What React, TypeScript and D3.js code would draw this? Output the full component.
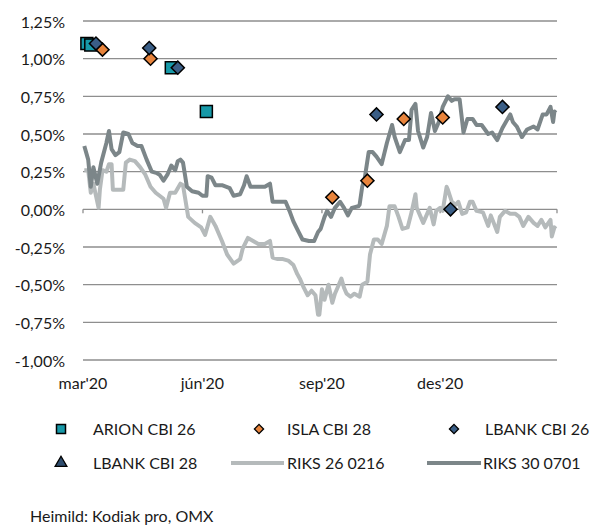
import React from 'react'
import * as d3 from 'd3'

// RIKS 30 0701 (dark line), % yield
const riks30: [string, number][] = [
  ['2020-03-02', 0.42], ['2020-03-05', 0.33], ['2020-03-07', 0.15], ['2020-03-09', 0.28], ['2020-03-12', 0.17],
  ['2020-03-15', 0.31], ['2020-03-19', 0.44], ['2020-03-21', 0.52], ['2020-03-23', 0.40], ['2020-03-26', 0.36],
  ['2020-03-29', 0.38], ['2020-04-01', 0.51], ['2020-04-05', 0.50], ['2020-04-08', 0.44], ['2020-04-12', 0.42],
  ['2020-04-15', 0.42], ['2020-04-19', 0.33], ['2020-04-23', 0.25], ['2020-04-27', 0.24], ['2020-04-29', 0.23],
  ['2020-05-02', 0.19], ['2020-05-05', 0.23], ['2020-05-08', 0.29], ['2020-05-11', 0.26], ['2020-05-13', 0.32],
  ['2020-05-15', 0.33], ['2020-05-17', 0.31], ['2020-05-20', 0.15], ['2020-05-24', 0.12], ['2020-05-29', 0.11],
  ['2020-06-01', 0.09], ['2020-06-04', 0.09], ['2020-06-05', 0.22], ['2020-06-08', 0.21], ['2020-06-11', 0.16],
  ['2020-06-16', 0.16], ['2020-06-22', 0.14], ['2020-06-25', 0.09], ['2020-06-30', 0.10], ['2020-07-03', 0.16],
  ['2020-07-05', 0.22], ['2020-07-08', 0.15], ['2020-07-14', 0.15], ['2020-07-19', 0.15], ['2020-07-23', 0.17],
  ['2020-07-25', 0.05], ['2020-07-31', 0.05], ['2020-08-04', 0.05], ['2020-08-07', -0.01], ['2020-08-10', -0.08],
  ['2020-08-14', -0.15], ['2020-08-17', -0.20], ['2020-08-22', -0.21], ['2020-08-26', -0.21], ['2020-08-29', -0.15],
  ['2020-08-31', -0.13], ['2020-09-03', -0.05], ['2020-09-05', -0.01], ['2020-09-08', -0.05], ['2020-09-11', 0.01],
  ['2020-09-15', 0.05], ['2020-09-18', 0.01], ['2020-09-21', -0.04], ['2020-09-24', 0.01], ['2020-09-29', 0.02],
  ['2020-09-30', 0.03], ['2020-10-02', 0.15], ['2020-10-04', 0.21], ['2020-10-07', 0.38], ['2020-10-10', 0.38],
  ['2020-10-13', 0.35], ['2020-10-17', 0.30], ['2020-10-21', 0.44], ['2020-10-25', 0.56], ['2020-10-27', 0.48],
  ['2020-10-31', 0.38], ['2020-11-04', 0.46], ['2020-11-07', 0.46], ['2020-11-09', 0.66], ['2020-11-12', 0.70],
  ['2020-11-14', 0.52], ['2020-11-18', 0.41], ['2020-11-21', 0.48], ['2020-11-24', 0.64], ['2020-11-27', 0.52],
  ['2020-11-30', 0.58], ['2020-12-03', 0.68], ['2020-12-07', 0.75], ['2020-12-10', 0.72], ['2020-12-12', 0.73],
  ['2020-12-16', 0.73], ['2020-12-19', 0.51], ['2020-12-22', 0.60], ['2020-12-26', 0.60], ['2020-12-29', 0.56],
  ['2021-01-02', 0.56], ['2021-01-07', 0.50], ['2021-01-10', 0.51], ['2021-01-14', 0.46], ['2021-01-18', 0.54],
  ['2021-01-24', 0.63], ['2021-01-26', 0.58], ['2021-01-29', 0.55], ['2021-02-02', 0.48], ['2021-02-06', 0.53],
  ['2021-02-11', 0.55], ['2021-02-14', 0.53], ['2021-02-18', 0.63], ['2021-02-21', 0.63], ['2021-02-24', 0.68],
  ['2021-02-26', 0.58], ['2021-02-27', 0.65], ['2021-02-28', 0.64],
]

// RIKS 26 0216 (light line)
const riks26: [string, number][] = [
  ['2020-03-02', 0.26], ['2020-03-05', 0.26], ['2020-03-07', 0.11], ['2020-03-09', 0.17], ['2020-03-13', 0.01],
  ['2020-03-14', 0.13], ['2020-03-16', 0.26], ['2020-03-19', 0.25], ['2020-03-21', 0.30], ['2020-03-23', 0.30],
  ['2020-03-24', 0.13], ['2020-03-28', 0.13], ['2020-04-01', 0.13], ['2020-04-03', 0.31], ['2020-04-06', 0.33],
  ['2020-04-10', 0.32], ['2020-04-14', 0.28], ['2020-04-18', 0.23], ['2020-04-22', 0.15], ['2020-04-26', 0.11],
  ['2020-05-02', 0.07], ['2020-05-04', 0.01], ['2020-05-07', 0.11], ['2020-05-11', 0.11], ['2020-05-15', 0.17],
  ['2020-05-17', 0.16], ['2020-05-21', -0.05], ['2020-05-26', -0.09], ['2020-05-31', -0.12], ['2020-06-03', -0.17],
  ['2020-06-07', -0.05], ['2020-06-11', -0.11], ['2020-06-14', -0.17], ['2020-06-16', -0.21], ['2020-06-20', -0.30],
  ['2020-06-25', -0.36], ['2020-06-30', -0.33], ['2020-07-02', -0.26], ['2020-07-06', -0.19], ['2020-07-10', -0.21],
  ['2020-07-14', -0.23], ['2020-07-19', -0.23], ['2020-07-23', -0.21], ['2020-07-25', -0.32], ['2020-07-29', -0.33],
  ['2020-08-02', -0.33], ['2020-08-06', -0.34], ['2020-08-10', -0.37], ['2020-08-13', -0.43], ['2020-08-15', -0.46],
  ['2020-08-18', -0.52], ['2020-08-21', -0.57], ['2020-08-24', -0.54], ['2020-08-27', -0.57], ['2020-08-29', -0.70],
  ['2020-08-30', -0.70], ['2020-09-01', -0.53], ['2020-09-03', -0.60], ['2020-09-06', -0.50], ['2020-09-09', -0.62],
  ['2020-09-11', -0.56], ['2020-09-13', -0.52], ['2020-09-16', -0.46], ['2020-09-18', -0.52], ['2020-09-20', -0.56],
  ['2020-09-23', -0.58], ['2020-09-26', -0.56], ['2020-09-30', -0.58], ['2020-10-02', -0.50], ['2020-10-06', -0.48],
  ['2020-10-08', -0.30], ['2020-10-11', -0.20], ['2020-10-14', -0.20], ['2020-10-17', -0.23], ['2020-10-21', -0.11],
  ['2020-10-23', 0.02], ['2020-10-27', 0.02], ['2020-10-30', -0.05], ['2020-11-02', -0.13], ['2020-11-06', -0.12],
  ['2020-11-09', -0.02], ['2020-11-12', 0.10], ['2020-11-13', 0.01], ['2020-11-16', -0.05], ['2020-11-18', -0.09],
  ['2020-11-21', -0.03], ['2020-11-23', 0.01], ['2020-11-26', -0.10], ['2020-11-28', -0.01], ['2020-12-01', 0.01],
  ['2020-12-03', -0.01], ['2020-12-06', 0.15], ['2020-12-07', 0.13], ['2020-12-10', 0.05], ['2020-12-13', 0.03],
  ['2020-12-15', 0.05], ['2020-12-18', -0.03], ['2020-12-21', -0.02], ['2020-12-24', 0.05], ['2020-12-26', 0.05],
  ['2020-12-29', -0.01], ['2021-01-03', -0.02], ['2021-01-07', -0.11], ['2021-01-09', -0.04], ['2021-01-14', -0.15],
  ['2021-01-16', -0.05], ['2021-01-20', -0.01], ['2021-01-24', -0.03], ['2021-01-28', -0.03], ['2021-01-31', -0.05],
  ['2021-02-03', -0.11], ['2021-02-07', -0.05], ['2021-02-11', -0.09], ['2021-02-14', -0.11], ['2021-02-17', -0.07],
  ['2021-02-20', -0.12], ['2021-02-24', -0.07], ['2021-02-25', -0.18], ['2021-02-27', -0.12], ['2021-02-28', -0.13],
]

// Bond issues (markers)
const arion26: [string, number][] = [['2020-03-04', 1.10], ['2020-03-07', 1.09], ['2020-05-08', 0.94], ['2020-06-04', 0.65]]
const isla28: [string, number][] = [
  ['2020-03-16', 1.06], ['2020-04-22', 1.00], ['2020-09-09', 0.08], ['2020-10-06', 0.19], ['2020-11-03', 0.60], ['2020-12-03', 0.61],
]
const lbank26: [string, number][] = [
  ['2020-03-11', 1.10], ['2020-04-21', 1.07], ['2020-05-13', 0.94], ['2020-10-13', 0.63], ['2020-12-09', 0.00], ['2021-01-18', 0.68],
]

const yTicks = [-1, -0.75, -0.5, -0.25, 0, 0.25, 0.5, 0.75, 1, 1.25]
const xTicks = ['2020-03-01', '2020-06-01', '2020-09-01', '2020-12-01', '2021-03-01']
const xTickLabels = ["mar'20", "jún'20", "sep'20", "des'20"]

const C = {
  arion: '#1799a8',
  isla: '#e8843c',
  lbank26: '#3a5e86',
  lbank28: '#2f4d6e',
  riks26: '#b5babb',
  riks30: '#7c8689',
  grid: '#8e8e8e',
}

const FONT = 'Lato, "Open Sans", sans-serif'
const fmt = d3.formatLocale({ decimal: ',', thousands: '.', grouping: [3], currency: ['', ''], minus: '-' }).format('.2f')

export default function App() {
  const W = 593, H = 525
  const x = d3.scaleUtc().domain([new Date('2020-03-01'), new Date('2021-03-01')]).range([83, 557])
  const y = d3.scaleLinear().domain([-1, 1.25]).range([360, 21])

  const line = d3.line<[string, number]>()
    .x(d => x(new Date(d[0])))
    .y(d => y(d[1]))

  const sq = d3.symbol(d3.symbolSquare, 144)()
  const dia = d3.symbol(d3.symbolSquare, 86)()
  const sqL = d3.symbol(d3.symbolSquare, 81)()
  const diaL = d3.symbol(d3.symbolSquare, 42)()
  const triL = d3.symbol(d3.symbolTriangle, 60)()

  const markers = (data: [string, number][], path: string, fill: string, rot: number, key: string) =>
    data.map((d, i) => (
      <path key={key + i} d={path} fill={fill} stroke="#000" strokeWidth={1.5}
        transform={`translate(${x(new Date(d[0]))},${y(d[1])}) rotate(${rot})`} />
    ))

  const txt = { fontFamily: FONT, fontSize: 16, fill: '#1a1a1a' }

  return (
    <div style={{ position: 'absolute', left: 0, top: 0 }}>
      <svg width={W} height={H} style={{ display: 'block', background: '#fff' }}>
        {/* gridlines */}
        {yTicks.map(t => (
          <line key={t} x1={83} x2={557} y1={y(t)} y2={y(t)} stroke={C.grid} strokeWidth={1.3} />
        ))}
        {/* x axis ticks at zero line */}
        {xTicks.map(t => (
          <line key={t} x1={x(new Date(t))} x2={x(new Date(t))} y1={y(0)} y2={y(0) + 4} stroke={C.grid} strokeWidth={1.3} />
        ))}
        {/* y labels */}
        {yTicks.map(t => (
          <text key={'l' + t} x={65} y={y(t) + 6.5} textAnchor="end" style={txt}>{fmt(t) + '%'}</text>
        ))}
        {/* x labels */}
        {xTickLabels.map((l, i) => (
          <text key={l} x={x(new Date(xTicks[i]))} y={389} textAnchor="middle" style={txt}>{l}</text>
        ))}

        {/* lines */}
        <path d={line(riks26) ?? ''} fill="none" stroke={C.riks26} strokeWidth={4} strokeLinejoin="round" />
        <path d={line(riks30) ?? ''} fill="none" stroke={C.riks30} strokeWidth={4} strokeLinejoin="round" />

        {/* markers */}
        {markers(arion26, sq, C.arion, 0, 'a')}
        {markers(isla28, dia, C.isla, 45, 'i')}
        {markers(lbank26, dia, C.lbank26, 45, 'b')}

        {/* legend */}
        <path d={sqL} transform="translate(61,429)" fill={C.arion} stroke="#000" strokeWidth={1.5} />
        <text x={93} y={435} style={txt}>ARION CBI 26</text>
        <path d={diaL} transform="translate(259,429) rotate(45)" fill={C.isla} stroke="#000" strokeWidth={1.3} />
        <text x={287} y={435} style={txt}>ISLA CBI 28</text>
        <path d={diaL} transform="translate(454,429) rotate(45)" fill={C.lbank26} stroke="#000" strokeWidth={1.3} />
        <text x={485} y={435} style={txt}>LBANK CBI 26</text>

        <path d={triL} transform="translate(61,463)" fill={C.lbank28} stroke="#000" strokeWidth={1.3} />
        <text x={93} y={469} style={txt}>LBANK CBI 28</text>
        <line x1={231} x2={284} y1={463} y2={463} stroke={C.riks26} strokeWidth={4} />
        <text x={287} y={469} style={txt}>RIKS 26 0216</text>
        <line x1={427} x2={481} y1={463} y2={463} stroke={C.riks30} strokeWidth={4} />
        <text x={483} y={469} style={txt}>RIKS 30 0701</text>

        <text x={30} y={522} style={txt}>Heimild: Kodiak pro, OMX</text>
      </svg>
    </div>
  )
}
